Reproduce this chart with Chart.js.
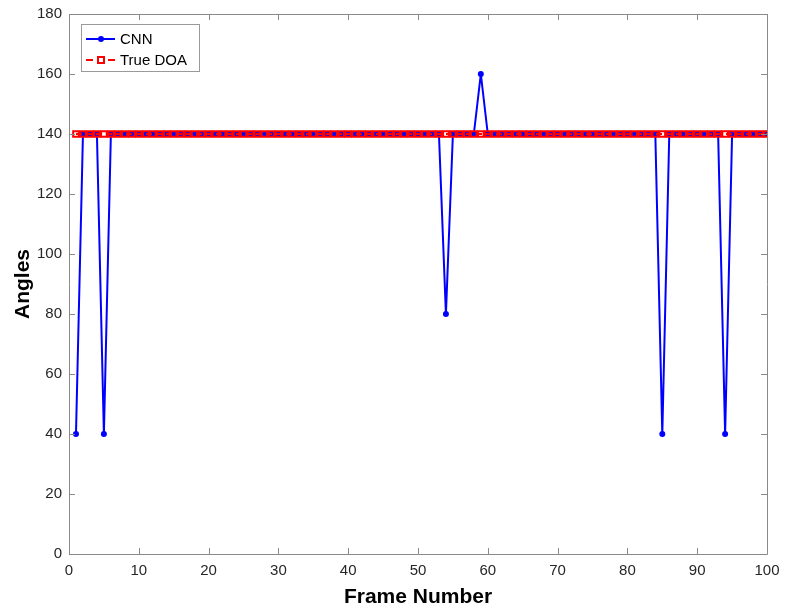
<!DOCTYPE html>
<html>
<head>
<meta charset="utf-8">
<script src="https://cdn.jsdelivr.net/npm/chart.js@4.4.1/dist/chart.umd.min.js"></script>
<style>
  html, body { margin: 0; padding: 0; background: #fff; }
  #wrap { width: 785px; height: 614px; }
</style>
</head>
<body>
<div id="wrap"><canvas id="c" width="785" height="614"></canvas></div>
<script>
const frames = [1,2,3,4,5,6,7,8,9,10,11,12,13,14,15,16,17,18,19,20,21,22,23,24,25,26,27,28,29,30,31,32,33,34,35,36,37,38,39,40,41,42,43,44,45,46,47,48,49,50,51,52,53,54,55,56,57,58,59,60,61,62,63,64,65,66,67,68,69,70,71,72,73,74,75,76,77,78,79,80,81,82,83,84,85,86,87,88,89,90,91,92,93,94,95,96,97,98,99,100];
const cnnAngles = [40,140,140,140,40,140,140,140,140,140,140,140,140,140,140,140,140,140,140,140,140,140,140,140,140,140,140,140,140,140,140,140,140,140,140,140,140,140,140,140,140,140,140,140,140,140,140,140,140,140,140,140,140,80,140,140,140,140,160,140,140,140,140,140,140,140,140,140,140,140,140,140,140,140,140,140,140,140,140,140,140,140,140,140,40,140,140,140,140,140,140,140,140,40,140,140,140,140,140,140];
const trueDOA = [140,140,140,140,140,140,140,140,140,140,140,140,140,140,140,140,140,140,140,140,140,140,140,140,140,140,140,140,140,140,140,140,140,140,140,140,140,140,140,140,140,140,140,140,140,140,140,140,140,140,140,140,140,140,140,140,140,140,140,140,140,140,140,140,140,140,140,140,140,140,140,140,140,140,140,140,140,140,140,140,140,140,140,140,140,140,140,140,140,140,140,140,140,140,140,140,140,140,140,140];
const xTicks = [0,10,20,30,40,50,60,70,80,90,100];
const yTicks = [0,20,40,60,80,100,120,140,160,180];
const seriesNames = ['CNN', 'True DOA'];

const FONT = "'Liberation Sans', Arial, Helvetica, sans-serif";
const AXIS_COLOR = '#8a8a8a';

const boxPlugin = {
  id: 'boxPlugin',
  afterDraw(chart) {
    const ctx = chart.ctx;
    const a = chart.chartArea;
    const xs = chart.scales.x, ys = chart.scales.y;
    ctx.save();
    ctx.strokeStyle = AXIS_COLOR;
    ctx.lineWidth = 1;
    ctx.beginPath();
    ctx.rect(Math.round(a.left) + 0.5, Math.round(a.top) + 0.5, Math.round(a.right - a.left), Math.round(a.bottom - a.top));
    ctx.stroke();
    const tl = 6;
    ctx.beginPath();
    xTicks.forEach(v => {
      const px = Math.round(xs.getPixelForValue(v)) + 0.5;
      ctx.moveTo(px, a.bottom); ctx.lineTo(px, a.bottom - tl);
      ctx.moveTo(px, a.top); ctx.lineTo(px, a.top + tl);
    });
    yTicks.forEach(v => {
      const py = Math.round(ys.getPixelForValue(v)) + 0.5;
      ctx.moveTo(a.left, py); ctx.lineTo(a.left + tl, py);
      ctx.moveTo(a.right, py); ctx.lineTo(a.right - tl, py);
    });
    ctx.stroke();

    // legend inside the plot
    const lx = 81, ly = 24, lw = 118, lh = 47;
    ctx.fillStyle = '#fff';
    ctx.fillRect(lx, ly, lw, lh);
    ctx.strokeStyle = '#9a9a9a';
    ctx.strokeRect(lx + 0.5, ly + 0.5, lw, lh);
    const rows = [ly + 15, ly + 36];
    chart.data.datasets.forEach((ds, i) => {
      const y = rows[i];
      ctx.strokeStyle = ds.borderColor;
      ctx.lineWidth = ds.borderWidth;
      ctx.setLineDash(ds.borderDash ? [7, 4] : []);
      ctx.beginPath();
      ctx.moveTo(lx + 5, y); ctx.lineTo(lx + 34, y);
      ctx.stroke();
      ctx.setLineDash([]);
      if (ds.pointStyle === 'circle') {
        ctx.fillStyle = ds.pointBackgroundColor;
        ctx.beginPath(); ctx.arc(lx + 20, y, 3, 0, Math.PI * 2); ctx.fill();
      } else {
        ctx.strokeStyle = ds.pointBorderColor;
        ctx.lineWidth = 2;
        ctx.fillStyle = '#fff';
        ctx.fillRect(lx + 17, y - 3, 6, 6);
        ctx.strokeRect(lx + 17, y - 3, 6, 6);
      }
      ctx.fillStyle = '#000';
      ctx.font = '15px ' + FONT;
      ctx.textBaseline = 'middle';
      ctx.textAlign = 'left';
      ctx.fillText(seriesNames[i], lx + 39, y + 1);
    });
    ctx.restore();
  }
};

new Chart(document.getElementById('c'), {
  type: 'line',
  data: {
    datasets: [
      {
        label: seriesNames[0],
        data: frames.map((f, i) => ({ x: f, y: cnnAngles[i] })),
        borderColor: '#0000ff',
        backgroundColor: '#0000ff',
        borderWidth: 2,
        borderJoinStyle: 'round',
        pointStyle: 'circle',
        pointRadius: 3,
        pointBackgroundColor: '#0000ff',
        pointBorderColor: '#0000ff',
        pointBorderWidth: 0,
        tension: 0,
        order: 2
      },
      {
        label: seriesNames[1],
        data: frames.map((f, i) => ({ x: f, y: trueDOA[i] })),
        borderColor: '#ff0000',
        backgroundColor: 'rgba(0,0,0,0)',
        borderWidth: 2,
        borderDash: [6, 4],
        pointStyle: 'rect',
        pointRadius: 4,
        pointBackgroundColor: 'rgba(0,0,0,0)',
        pointBorderColor: '#ff0000',
        pointBorderWidth: 2,
        tension: 0,
        order: 1
      }
    ]
  },
  options: {
    responsive: false,
    animation: false,
    events: [],
    layout: { padding: { left: 0, right: 18, top: 14, bottom: 0 } },
    plugins: { legend: { display: false }, tooltip: { enabled: false } },
    scales: {
      x: {
        type: 'linear', min: 0, max: 100,
        afterBuildTicks(s) { s.ticks = xTicks.map(v => ({ value: v })); },
        afterFit(s) { s.height = 60; s.paddingRight = 0; s.paddingLeft = 0; },
        grid: { display: false, drawTicks: false },
        border: { display: false },
        ticks: { color: '#262626', font: { family: FONT, size: 15, lineHeight: 1 }, padding: 9, maxRotation: 0, autoSkip: false },
        title: { display: true, text: 'Frame Number', color: '#000', font: { family: FONT, size: 21, weight: 'bold' }, padding: { top: 0, bottom: 4 } }
      },
      y: {
        type: 'linear', min: 0, max: 180,
        afterBuildTicks(s) { s.ticks = yTicks.map(v => ({ value: v })); },
        afterFit(s) { s.width = 69; s.paddingTop = 0; s.paddingBottom = 0; },
        grid: { display: false, drawTicks: false },
        border: { display: false },
        ticks: { color: '#262626', font: { family: FONT, size: 15, lineHeight: 1 }, padding: 7, autoSkip: false },
        title: { display: true, text: 'Angles', color: '#000', font: { family: FONT, size: 21, weight: 'bold' }, padding: { top: 11, bottom: 0 } }
      }
    }
  },
  plugins: [boxPlugin]
});
</script>
</body>
</html>
